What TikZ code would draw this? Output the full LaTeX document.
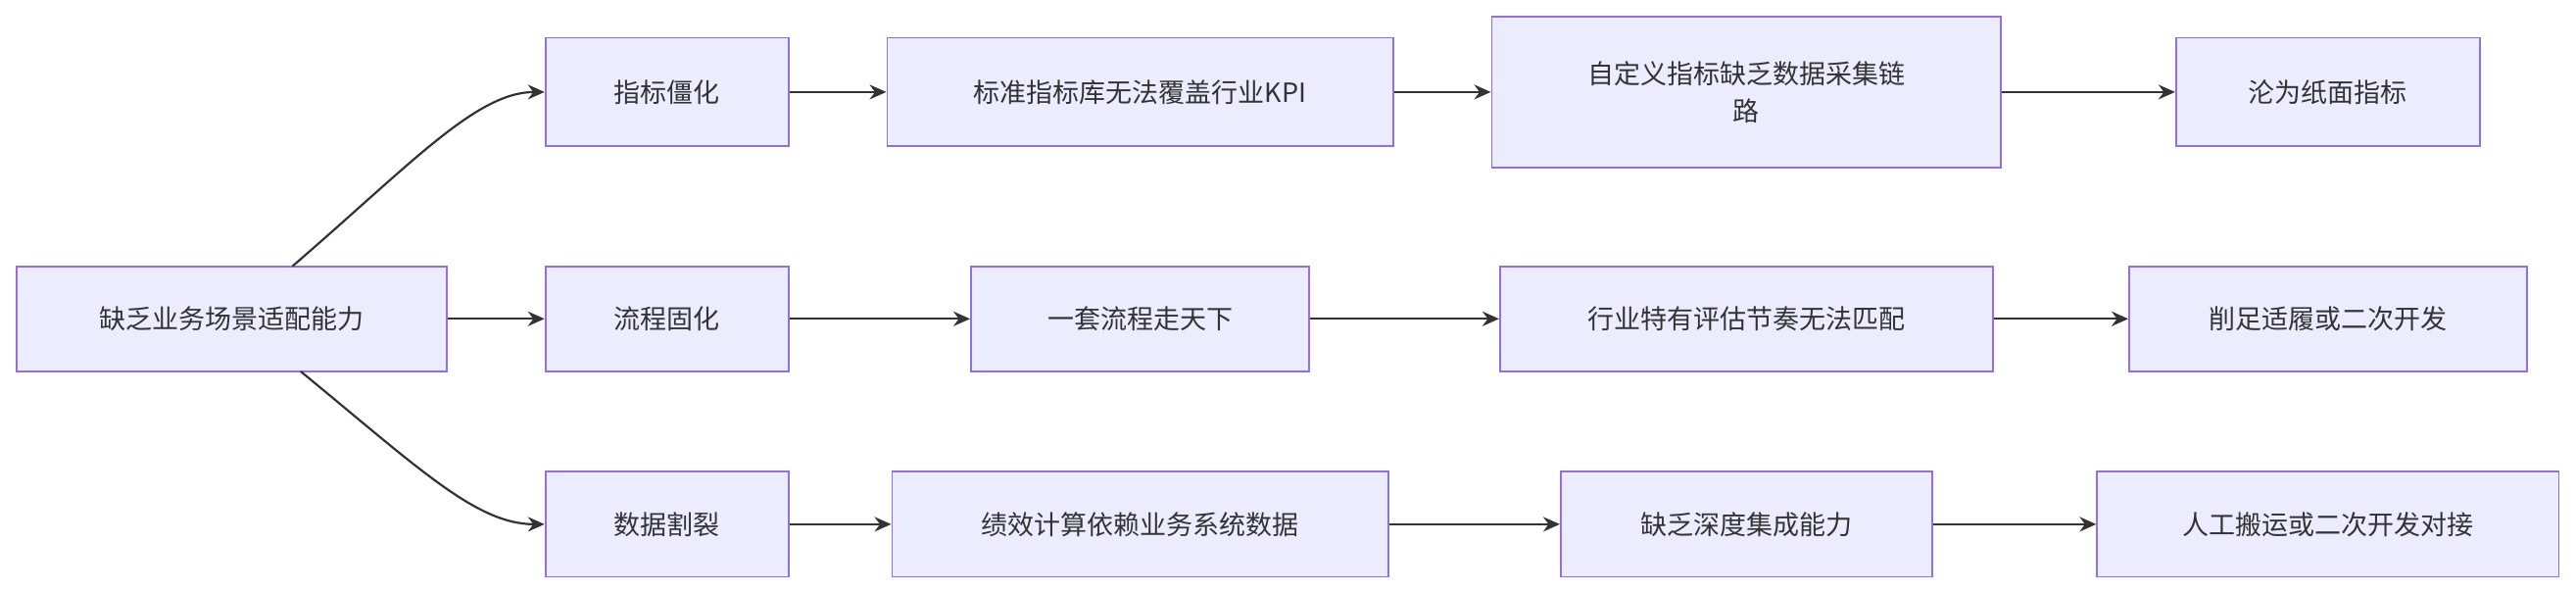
\documentclass[tikz,border=0pt]{standalone}
\usepackage{fontspec}
\setmainfont{Noto Sans CJK SC}
\usetikzlibrary{arrows.meta}
\begin{document}
\begin{tikzpicture}[x=1.6767pt,y=-1.6767pt,
  box/.style={draw=boxline,fill=boxfill,line width=1.8pt,font=\fontsize{27}{38}\selectfont,text=txt,inner sep=0pt,align=center},
  conn/.style={draw=lc,line width=2.2pt,-{Stealth[length=17pt,width=15pt]}}]
\definecolor{boxfill}{HTML}{ECECFF}
\definecolor{boxline}{HTML}{9370DB}
\definecolor{lc}{HTML}{333333}
\definecolor{txt}{HTML}{333333}
\useasboundingbox[fill=white] (0,0) rectangle (1568,360);
\newcommand{\bx}[6]{\node[box,minimum width=#3*1.6767pt,minimum height=#4*1.6767pt,#6] (#1) at (#2) {#5};}
\bx{A}{141,194}{262}{64}{缺乏业务场景适配能力}{}
\bx{B1}{406,56}{148}{66}{指标僵化}{}
\bx{B2}{406,194}{148}{64}{流程固化}{}
\bx{B3}{406,319}{148}{64}{数据割裂}{}
\bx{C1}{694,56}{308}{66}{标准指标库无法覆盖行业KPI}{}
\bx{C2}{694,194}{206}{64}{一套流程走天下}{}
\bx{C3}{694,319}{302}{64}{绩效计算依赖业务系统数据}{}
\bx{D1}{1063,56}{310}{92}{自定义指标缺乏数据采集链\\路}{}
\bx{D2}{1063,194}{300}{64}{行业特有评估节奏无法匹配}{}
\bx{D3}{1063,319}{226}{64}{缺乏深度集成能力}{}
\bx{E1}{1417,56}{185}{66}{沦为纸面指标}{}
\bx{E2}{1417,194}{242}{64}{削足适履或二次开发}{}
\bx{E3}{1417,319}{281}{64}{人工搬运或二次开发对接}{}
\coordinate (At) at (178,162);
\coordinate (Ab) at (183,226);
\draw[conn] (At) .. controls (250,100) and (290,56) .. (B1.west);
\draw[conn] (Ab) .. controls (255,285) and (290,319) .. (B3.west);
\draw[conn] (A) -- (B2);
\foreach \r in {1,2,3}{
  \draw[conn] (B\r) -- (C\r);
  \draw[conn] (C\r) -- (D\r);
  \draw[conn] (D\r) -- (E\r);
}
\end{tikzpicture}
\end{document}
